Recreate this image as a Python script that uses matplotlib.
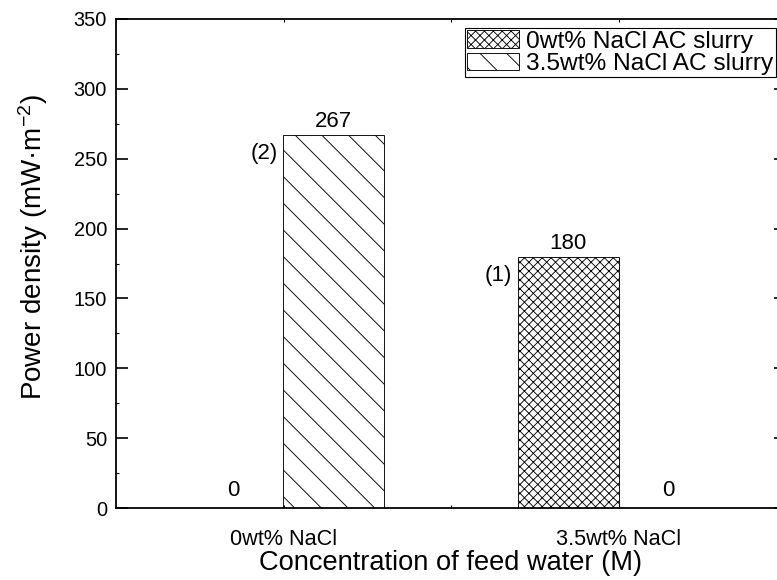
import numpy as np
import matplotlib
matplotlib.use('Agg')
import matplotlib.pyplot as plt
from matplotlib.ticker import MultipleLocator

# feed water concentration groups
categories = ['0wt% NaCl', '3.5wt% NaCl']
slurry_labels = ['0wt% NaCl AC slurry', '3.5wt% NaCl AC slurry']
# power density (mW/m2) for each slurry in each feed water
power_0wt_slurry = [0, 180]
power_35wt_slurry = [267, 0]
tags_0wt_slurry = ['', '(1)']
tags_35wt_slurry = ['(2)', '']

plt.rcParams['font.family'] = ['Liberation Sans', 'DejaVu Sans']
plt.rcParams['mathtext.fontset'] = 'custom'
plt.rcParams['mathtext.rm'] = 'Liberation Sans'
plt.rcParams['mathtext.it'] = 'Liberation Sans:italic'
plt.rcParams['hatch.linewidth'] = 0.8

DPI = 80
W, H = 777, 580
fig = plt.figure(figsize=(W / DPI, H / DPI), dpi=DPI)
ax = fig.add_axes([116 / W, 72 / H, (786 - 116) / W, (508 - 19) / H])

x = np.arange(1, len(categories) + 1)
bw = 0.3
bars1 = ax.bar(x - bw / 2, power_0wt_slurry, bw, facecolor='white', edgecolor='black',
               linewidth=0.8, hatch='xxx', label=slurry_labels[0])
bars2 = ax.bar(x + bw / 2, power_35wt_slurry, bw, facecolor='white', edgecolor='black',
               linewidth=0.8, hatch='\\', label=slurry_labels[1])


def label_bars(bars, values, tags):
    for b, v, t in zip(bars, values, tags):
        xc = b.get_x() + b.get_width() / 2
        off = 3 if v > 0 else 7
        ax.annotate(f'{v:g}', xy=(xc, v), xytext=(0, off), textcoords='offset pixels',
                    ha='center', va='bottom', fontsize=20)
        if t:
            ax.annotate(t, xy=(b.get_x(), v), xytext=(-6, -19), textcoords='offset pixels',
                        ha='right', va='center', fontsize=20)


label_bars(bars1, power_0wt_slurry, tags_0wt_slurry)
label_bars(bars2, power_35wt_slurry, tags_35wt_slurry)

ax.set_xlim(0.5, 2.5)
ax.set_ylim(0, 350)
ax.set_xticks(x, categories)
ax.xaxis.set_minor_locator(MultipleLocator(0.5))
ax.yaxis.set_major_locator(MultipleLocator(50))
ax.yaxis.set_minor_locator(MultipleLocator(25))
ax.tick_params(axis='y', which='major', direction='in', length=11, width=1.5,
               right=True, labelsize=18, pad=8)
ax.tick_params(axis='y', which='minor', direction='in', length=3, width=1, right=True)
ax.tick_params(axis='x', which='both', direction='in', length=3, width=1, top=True,
               labelsize=19.5, pad=19)
for s in ax.spines.values():
    s.set_linewidth(1.6)

ax.set_xlabel('Concentration of feed water (M)', fontsize=24.5, labelpad=0)
ax.set_ylabel('Power density (mW·m$^{-2}$)', fontsize=25)
ax.yaxis.set_label_coords(-0.099, 0.534)

ax.legend(loc='upper left', bbox_to_anchor=(465 / W, 1 - 28 / H), bbox_transform=fig.transFigure,
          fontsize=22, frameon=True, fancybox=False, edgecolor='black', framealpha=1,
          borderpad=0.1, labelspacing=0.0, handlelength=2.1, handleheight=0.7,
          handletextpad=0.3, borderaxespad=0)

fig.savefig('out.png', dpi=DPI)
